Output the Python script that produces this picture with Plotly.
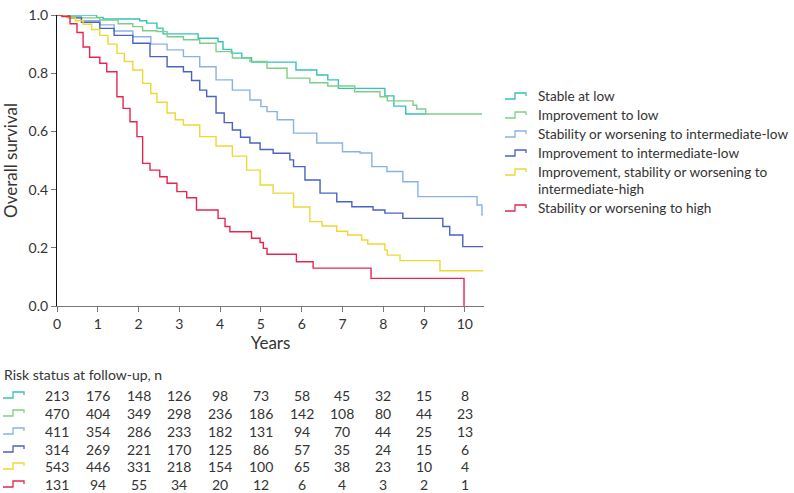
import plotly.graph_objects as go

# group names (legend order)
groups = [
    "Stable at low",
    "Improvement to low",
    "Stability or worsening to intermediate-low",
    "Improvement to intermediate-low",
    "Improvement, stability or worsening to<br>intermediate-high",
    "Stability or worsening to high",
]
colors = ["#35c3b5", "#7dcf86", "#88b2e6", "#4a62c2", "#ecd932", "#e52651"]

# Kaplan-Meier steps (event time in years, survival after it)
t_stable_low = [0, 0.97, 1.13, 2.03, 2.2, 2.45, 2.6, 3.46, 3.95, 4.07, 4.28, 4.53, 4.77,
                5.86, 6.37, 6.64, 6.9, 8.04, 8.26, 8.55, 8.63, 9.04]
s_stable_low = [1.0, 0.992, 0.986, 0.98, 0.972, 0.955, 0.935, 0.92, 0.908, 0.882, 0.869, 0.853,
                0.838, 0.811, 0.794, 0.777, 0.748, 0.722, 0.687, 0.66, 0.66, 0.66]

t_impr_low = [0, 0.3, 0.6, 1.05, 1.5, 1.86, 2.1, 2.45, 2.7, 3.1, 3.5, 3.9, 4.3, 4.73, 5.15,
              5.64, 6.2, 6.64, 7.3, 7.92, 8.1, 8.73, 8.82, 9.04, 10.42]
s_impr_low = [1.0, 0.995, 0.99, 0.983, 0.97, 0.96, 0.946, 0.943, 0.925, 0.915, 0.903, 0.874,
              0.852, 0.84, 0.817, 0.783, 0.767, 0.756, 0.736, 0.719, 0.705, 0.69, 0.677, 0.66, 0.66]

t_stab_il = [0, 0.3, 0.6, 1.05, 1.4, 1.86, 2.3, 2.7, 3.1, 3.5, 3.9, 4.3, 4.73, 5.0, 5.15, 5.4,
             5.8, 6.37, 7.0, 7.43, 7.72, 8.09, 8.48, 8.85, 10.3, 10.42, 10.45]
s_stab_il = [1.0, 0.99, 0.98, 0.966, 0.945, 0.925, 0.9, 0.88, 0.857, 0.822, 0.777, 0.742, 0.708,
             0.685, 0.668, 0.64, 0.594, 0.56, 0.53, 0.526, 0.479, 0.462, 0.427, 0.376, 0.347,
             0.313, 0.313]

t_impr_il = [0, 0.3, 0.6, 1.05, 1.4, 1.86, 2.28, 2.7, 3.1, 3.3, 3.5, 3.67, 3.9, 4.1, 4.3, 4.5,
             4.73, 4.98, 5.3, 5.71, 5.8, 6.08, 6.45, 6.86, 7.23, 7.75, 8.04, 8.48, 9.46, 9.63,
             9.95, 10.45]
s_impr_il = [1.0, 0.99, 0.975, 0.954, 0.93, 0.903, 0.857, 0.822, 0.805, 0.775, 0.742, 0.72,
             0.663, 0.63, 0.605, 0.58, 0.56, 0.538, 0.525, 0.502, 0.479, 0.433, 0.388, 0.358,
             0.341, 0.33, 0.319, 0.301, 0.273, 0.244, 0.204, 0.204]

t_ih = [0, 0.1, 0.24, 0.45, 0.64, 0.85, 1.05, 1.25, 1.47, 1.65, 1.86, 2.1, 2.3, 2.45, 2.7, 2.9,
        3.1, 3.5, 3.9, 4.3, 4.65, 4.98, 5.3, 5.8, 6.2, 6.5, 6.86, 7.13, 7.47, 7.62, 8.04, 8.1,
        8.41, 9.39, 10.45]
s_ih = [1.0, 0.997, 0.99, 0.98, 0.968, 0.95, 0.93, 0.9, 0.868, 0.84, 0.811, 0.765, 0.73, 0.7,
        0.663, 0.64, 0.622, 0.582, 0.55, 0.515, 0.467, 0.416, 0.388, 0.34, 0.29, 0.275, 0.257,
        0.244, 0.227, 0.213, 0.192, 0.175, 0.156, 0.121, 0.121]

t_high = [0, 0.12, 0.32, 0.49, 0.64, 0.8, 1.05, 1.22, 1.47, 1.62, 1.79, 1.96, 2.1, 2.28, 2.52,
          2.7, 2.94, 3.18, 3.42, 3.95, 4.12, 4.24, 4.77, 4.98, 5.06, 5.15, 5.87, 6.28, 7.7, 9.98]
s_high = [1.0, 0.995, 0.97, 0.94, 0.89, 0.855, 0.834, 0.805, 0.719, 0.679, 0.633, 0.582, 0.49,
          0.467, 0.444, 0.422, 0.393, 0.372, 0.33, 0.301, 0.273, 0.255, 0.233, 0.218, 0.198,
          0.178, 0.152, 0.13, 0.095, 0.0]

times = [t_stable_low, t_impr_low, t_stab_il, t_impr_il, t_ih, t_high]
survs = [s_stable_low, s_impr_low, s_stab_il, s_impr_il, s_ih, s_high]

# number at risk
risk_years = [0, 1, 2, 3, 4, 5, 6, 7, 8, 9, 10]
risk_stable_low = [213, 176, 148, 126, 98, 73, 58, 45, 32, 15, 8]
risk_impr_low = [470, 404, 349, 298, 236, 186, 142, 108, 80, 44, 23]
risk_stab_il = [411, 354, 286, 233, 182, 131, 94, 70, 44, 25, 13]
risk_impr_il = [314, 269, 221, 170, 125, 86, 57, 35, 24, 15, 6]
risk_ih = [543, 446, 331, 218, 154, 100, 65, 38, 23, 10, 4]
risk_high = [131, 94, 55, 34, 20, 12, 6, 4, 3, 2, 1]
risks = [risk_stable_low, risk_impr_low, risk_stab_il, risk_impr_il, risk_ih, risk_high]

W, H = 794, 493
L, R, T, B = 57, 484, 15, 306
FONT = "Lato"
TXT = "#333333"


def px(x, y):
    # pixel position -> paper coordinates
    return (x - L) / (R - L), (B - y) / (B - T)


def step_icon(x0, yc, color):
    pts = [(x0, yc + 3), (x0 + 10, yc + 3), (x0 + 10, yc - 3), (x0 + 21, yc - 3), (x0 + 21, yc)]
    path = ""
    for i, (x, y) in enumerate(pts):
        a, b = px(x, y)
        path += ("M" if i == 0 else " L") + f" {a:.5f},{b:.5f}"
    return dict(type="path", path=path, xref="paper", yref="paper",
                line=dict(color=color, width=1.3))


def label(text, x, y, size=14):
    a, b = px(x, y)
    return dict(text=text, x=a, y=b, xref="paper", yref="paper", xanchor="left",
                yanchor="middle", showarrow=False, font=dict(family=FONT, size=size, color=TXT))


fig = go.Figure()
for name, t, s, c in zip(groups, times, survs, colors):
    fig.add_trace(go.Scatter(x=t, y=s, mode="lines", line=dict(color=c, width=1.4, shape="hv"),
                             name=name, showlegend=False, cliponaxis=False))

shapes = []
annotations = []

# legend
legend_rows = [96, 115, 134, 153, 172, 208]
for name, c, yc in zip(groups, colors, legend_rows):
    shapes.append(step_icon(505, yc, c))
    for k, part in enumerate(name.split("<br>")):
        annotations.append(label(part, 536, yc + 16.5 * k, size=13.6))

# risk table
annotations.append(label("Risk status at follow-up, n", 2, 374))
risk_rows = [395, 413, 431, 449, 466, 484]
for vals, c, yc in zip(risks, colors, risk_rows):
    shapes.append(step_icon(3, yc, c))
    for yr, v in zip(risk_years, vals):
        annotations.append(dict(text=str(v), x=yr, y=px(0, yc)[1], xref="x", yref="paper",
                                xanchor="center", yanchor="middle", showarrow=False,
                                font=dict(family=FONT, size=14, color=TXT)))

fig.update_layout(
    width=W, height=H,
    margin=dict(l=L, r=W - R, t=T, b=H - B),
    plot_bgcolor="white", paper_bgcolor="white",
    font=dict(family=FONT, size=14, color=TXT),
    shapes=shapes, annotations=annotations,
)
fig.update_xaxes(range=[0, 10.47], tickvals=risk_years, showline=True, linecolor="#777777",
                 linewidth=1.2, ticks="outside", ticklen=5, tickcolor="#777777", showgrid=False,
                 zeroline=False, automargin=False, title=dict(text="Years", standoff=6),
                 tickfont=dict(family=FONT, size=14, color=TXT))
fig.update_yaxes(range=[0, 1.0], tickvals=[0, 0.2, 0.4, 0.6, 0.8, 1.0], tickformat=".1f",
                 showline=True, linecolor="#111111", linewidth=1.2, ticks="outside", ticklen=5,
                 tickcolor="#777777", showgrid=False, zeroline=False, automargin=False,
                 title=dict(text="Overall survival", standoff=8),
                 tickfont=dict(family=FONT, size=14, color=TXT))

fig.write_html("out.html", config={"displayModeBar": False},
               post_script="document.body.style.margin='0';")
